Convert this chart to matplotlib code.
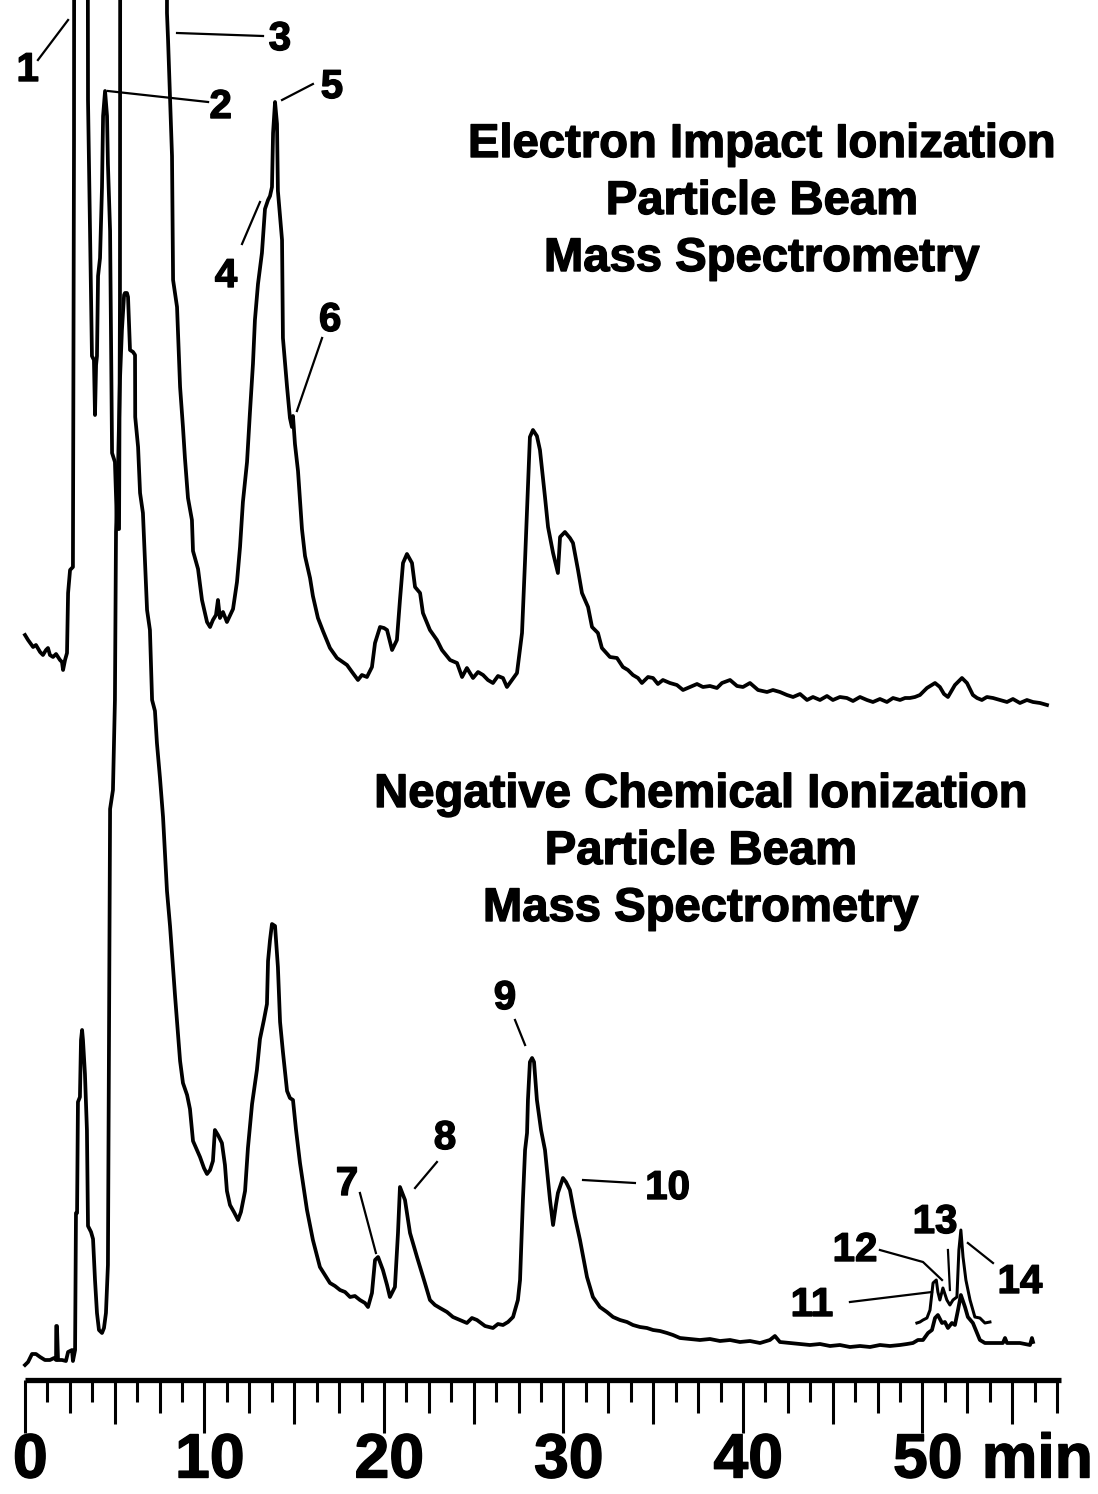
import numpy as np
import matplotlib
matplotlib.use("Agg")
import matplotlib.pyplot as plt
import matplotlib.patheffects as pe

# retention time (min) and detector signal, electron impact trace
ei_time = [0.00, 0.17, 0.45, 0.61, 0.84, 1.00, 1.17, 1.28, 1.39, 1.56, 1.73, 1.95, 2.06, 2.12,
           2.23, 2.34, 2.40, 2.51, 2.67, 2.73, 2.79, 3.06, 3.40, 3.51, 3.62, 3.73, 3.84, 3.90,
           3.96, 4.01, 4.07, 4.18, 4.29, 4.35, 4.46, 4.57, 4.62, 4.74, 4.85, 5.01, 5.13, 5.24,
           5.29, 5.35, 7.00, 7.86, 7.91, 7.97, 8.19, 8.25, 8.47, 8.64, 8.80, 8.91, 9.08, 9.30,
           9.36, 9.64, 9.86, 10.14, 10.31, 10.47, 10.64, 10.75, 10.86, 11.03, 11.25, 11.59,
           11.81, 11.98, 12.14, 12.37, 12.53, 12.70, 12.81, 12.98, 13.20, 13.37, 13.54, 13.65,
           13.76, 13.82, 13.93, 14.04, 14.09, 14.32, 14.37, 14.60, 14.76, 14.87, 14.93, 15.04,
           15.21, 15.43, 15.60, 15.88, 16.04, 16.32, 16.60, 16.99, 17.38, 17.94, 18.22, 18.55,
           18.77, 19.05, 19.33, 19.50, 19.78, 20.00, 20.17, 20.45, 20.72, 20.89, 21.06, 21.28,
           21.56, 21.73, 22.01, 22.17, 22.56, 22.95, 23.23, 23.68, 24.07, 24.35, 24.62, 24.96,
           25.24, 25.52, 25.79, 26.07, 26.35, 26.63, 26.85, 27.13, 27.41, 27.69, 27.86, 27.97,
           28.13, 28.30, 28.52, 28.69, 28.97, 29.14, 29.42, 29.69, 29.81, 30.08, 30.36, 30.53,
           30.81, 31.03, 31.37, 31.59, 31.92, 32.14, 32.59, 32.98, 33.31, 33.59, 33.87, 34.15,
           34.37, 34.71, 34.99, 35.26, 35.54, 35.93, 36.32, 36.66, 37.05, 37.44, 37.77, 38.16,
           38.55, 38.83, 39.28, 39.67, 40.00, 40.39, 40.84, 41.34, 41.67, 42.06, 42.45, 42.79,
           43.18, 43.57, 43.90, 44.29, 44.68, 45.01, 45.40, 45.79, 46.13, 46.52, 46.91, 47.24,
           47.63, 48.02, 48.36, 48.75, 49.03, 49.30, 49.58, 49.86, 50.25, 50.70, 50.97, 51.20,
           51.42, 51.81, 52.20, 52.48, 52.81, 53.04, 53.31, 53.59, 53.93, 54.32, 54.71, 55.04,
           55.43, 55.82, 56.16, 56.55, 56.94]
ei_signal = [70, 65, 58, 60, 53, 50, 55, 57, 50, 48, 51, 45, 43, 35,
             45, 52, 112, 135, 138, 565, 2000, 2600, 2000, 605, 478, 349, 345, 290,
             340, 349, 429, 447, 518, 589, 614, 589, 541, 474, 252, 243, 176, 176,
             405, 2000, 3000, 2000, 692, 665, 549, 425, 398, 318, 278, 247, 207, 185,
             154, 136, 105, 83, 78, 85, 90, 105, 87, 93, 83, 96,
             123, 158, 203, 243, 292, 341, 385, 421, 452, 496, 505, 509,
             518, 572, 603, 581, 514, 465, 367, 318, 287, 278, 289, 261,
             234, 176, 149, 127, 109, 87, 74, 57, 47, 40, 33, 25,
             30, 28, 38, 62, 78, 77, 75, 55, 65, 105, 142, 151,
             142, 118, 112, 92, 75, 65, 55, 45, 42, 28, 37, 27,
             33, 30, 25, 22, 29, 27, 18, 25, 32, 72, 145, 195,
             268, 275, 269, 255, 208, 178, 152, 132, 168, 173, 167, 162,
             135, 112, 98, 78, 72, 57, 48, 47, 38, 35, 30, 27,
             22, 28, 27, 21, 25, 22, 20, 15, 18, 21, 18, 19,
             17, 22, 25, 19, 18, 22, 15, 13, 15, 13, 10, 8,
             11, 5, 8, 5, 9, 5, 8, 7, 4, 8, 5, 3,
             6, 3, 7, 5, 7, 7, 8, 10, 17, 22, 18, 11,
             8, 20, 27, 22, 10, 7, 5, 8, 7, 5, 3, 6,
             2, 5, 3, 2, 0]

# negative chemical ionization trace
nci_time = [0.00, 0.17, 0.39, 0.61, 0.84, 1.11, 1.39, 1.62, 1.73, 1.74, 1.78, 1.84, 2.06, 2.28,
            2.40, 2.62, 2.67, 2.79, 2.84, 2.90, 2.95, 3.06, 3.12, 3.18, 3.23, 3.34, 3.45, 3.51,
            3.68, 3.79, 3.90, 4.01, 4.12, 4.29, 4.40, 4.51, 4.62, 4.74, 4.90, 5.01, 5.07, 5.18,
            5.29, 5.40, 5.52, 5.57, 5.68, 5.74, 5.85, 6.02, 6.13, 6.14, 6.30, 6.41, 6.57, 6.80,
            6.96, 7.08, 7.24, 7.35, 7.52, 7.69, 7.91, 8.08, 8.36, 8.64, 8.80, 9.03, 9.19, 9.36,
            9.58, 9.75, 9.97, 10.14, 10.31, 10.47, 10.58, 10.75, 10.97, 11.14, 11.25, 11.42,
            11.64, 11.87, 12.03, 12.26, 12.42, 12.65, 12.92, 13.09, 13.31, 13.48, 13.54, 13.65,
            13.76, 13.93, 14.09, 14.21, 14.37, 14.60, 14.76, 14.93, 15.10, 15.32, 15.71, 16.04,
            16.43, 16.99, 17.27, 17.55, 17.83, 18.11, 18.38, 18.66, 18.94, 19.11, 19.33, 19.50,
            19.67, 19.94, 20.17, 20.33, 20.61, 20.78, 20.89, 21.06, 21.17, 21.45, 21.84, 22.28,
            22.56, 22.84, 23.12, 23.51, 23.84, 24.23, 24.62, 24.90, 25.18, 25.63, 26.07, 26.35,
            26.63, 26.91, 27.19, 27.46, 27.58, 27.74, 27.86, 27.97, 28.02, 28.13, 28.25, 28.36,
            28.52, 28.75, 28.97, 29.25, 29.42, 29.58, 29.69, 29.97, 30.14, 30.36, 30.64, 30.92,
            31.31, 31.64, 32.03, 32.42, 32.76, 33.15, 33.54, 33.87, 34.26, 34.65, 34.99, 35.38,
            35.77, 36.10, 36.49, 37.05, 37.60, 38.16, 38.72, 39.28, 39.83, 40.39, 40.95, 41.50,
            41.78, 42.06, 42.62, 43.18, 43.73, 44.29, 44.85, 45.40, 45.96, 46.52, 47.08, 47.63,
            48.19, 48.75, 49.14, 49.47, 49.75, 50.03, 50.31, 50.53, 50.70, 50.86, 51.09, 51.25,
            51.42, 51.64, 51.81, 51.98, 52.14, 52.37, 52.53, 52.81, 53.04, 53.20, 53.48, 53.93,
            54.48, 54.60, 54.71, 55.43, 55.99, 56.10, 56.16]
nci_signal = [0, 3, 11, 11, 8, 5, 5, 7, 5, 39, 39, 5, 5, 4,
              13, 15, 4, 15, 152, 152, 263, 268, 325, 335, 325, 291, 235, 139,
              133, 126, 85, 52, 35, 32, 37, 52, 100, 556, 575, 665, 833, 895,
              985, 1035, 1070, 1072, 1072, 1068, 1015, 1013, 1010, 948, 918, 872, 852, 755,
              735, 665, 654, 622, 587, 548, 474, 439, 369, 304, 282, 270, 256, 224,
              215, 208, 197, 191, 195, 204, 235, 230, 222, 200, 174, 160,
              153, 145, 153, 174, 217, 261, 295, 326, 345, 361, 404, 425,
              441, 439, 398, 343, 313, 274, 267, 265, 235, 202, 155, 125,
              98, 82, 79, 75, 73, 68, 69, 65, 62, 58, 72, 105,
              108, 95, 80, 68, 78, 132, 178, 170, 165, 132, 108, 82,
              65, 60, 57, 53, 48, 45, 42, 47, 45, 39, 37, 41,
              40, 43, 48, 65, 85, 165, 215, 232, 265, 303, 307, 303,
              265, 235, 215, 165, 140, 160, 172, 187, 183, 175, 148, 125,
              88, 68, 58, 53, 48, 45, 43, 40, 38, 37, 35, 34,
              32, 30, 27, 26, 25, 26, 24, 25, 23, 24, 22, 25,
              29, 23, 22, 21, 20, 21, 19, 20, 18, 19, 18, 20,
              19, 20, 21, 22, 25, 25, 32, 35, 47, 50, 42, 43,
              37, 42, 40, 55, 70, 58, 48, 42, 32, 25, 22, 22,
              22, 27, 22, 22, 20, 27, 23]

# expanded late-eluting section (peaks 11-14)
inset_time = [49.69, 49.86, 50.03, 50.25, 50.42, 50.59, 50.77, 50.86, 50.97, 51.14, 51.36,
              51.53, 51.70, 51.92, 52.03, 52.14, 52.26, 52.42, 52.65, 52.92, 53.20, 53.48, 53.76]
inset_signal = [42, 43, 45, 47, 55, 82, 85, 73, 65, 77, 65,
                60, 65, 68, 115, 135, 108, 85, 65, 48, 47, 42, 43]

# peak numbers: label, text position, leader path (min, plot units)
peak_labels = [
    ("1", (0.15, 1424), [(0.72, 1434), (2.40, 1474)]),
    ("2", (10.90, 1387), [(4.62, 1403), (10.20, 1392)]),
    ("3", (14.20, 1455), [(8.47, 1461), (13.26, 1458)]),
    ("4", (11.20, 1218), [(13.09, 1292), (12.09, 1250)]),
    ("5", (17.10, 1407), [(14.32, 1394), (16.04, 1410)]),
    ("6", (17.00, 1174), [(15.15, 1083), (16.55, 1156)]),
    ("7", (17.94, 310), [(19.55, 241), (18.66, 301)]),
    ("8", (23.40, 356), [(21.73, 306), (22.95, 332)]),
    ("9", (26.74, 496), [(27.86, 449), (27.30, 474)]),
    ("10", (35.80, 306), [(31.09, 314), (33.98, 311)]),
    ("11", (43.84, 189), [(50.53, 202), (45.96, 192)]),
    ("12", (46.24, 244), [(51.09, 214), (50.03, 232), (47.63, 244)]),
    ("13", (50.70, 272), [(51.53, 204), (51.42, 244)]),
    ("14", (55.43, 212), [(52.53, 251), (53.93, 231)]),
]

ei_title = ["Electron Impact Ionization", "Particle Beam", "Mass Spectrometry"]
nci_title = ["Negative Chemical Ionization", "Particle Beam", "Mass Spectrometry"]
tick_labels = [0, 10, 20, 30, 40, 50]

EI_BASE = 789
NCI_BASE = 129
AXIS_Y = 114

fig = plt.figure(figsize=(10.98, 14.94), dpi=100)
ax = fig.add_axes([0, 0, 1, 1])
ax.set_xlim(-1.393, 59.78)
ax.set_ylim(0, 1494)
ax.axis("off")

lw = 2.7
ax.plot(ei_time, np.array(ei_signal) + EI_BASE, color="black", lw=lw)
ax.plot(nci_time, np.array(nci_signal) + NCI_BASE, color="black", lw=lw)
ax.plot(inset_time, np.array(inset_signal) + NCI_BASE, color="black", lw=lw * 0.8)

# heavy type: bold face with a thin outline
heavy = [pe.withStroke(linewidth=1.0, foreground="black")]
bold = dict(family=["Liberation Sans", "DejaVu Sans"], weight="bold", color="black",
            path_effects=heavy)
for label, (tx, ty), path in peak_labels:
    xs, ys = zip(*path)
    ax.plot(xs, ys, color="black", lw=1.6)
    ax.text(tx, ty, label, ha="center", va="center", fontsize=29, **bold)

for i, line in enumerate(ei_title):
    ax.text(41.06, 1349 - 57 * i, line, ha="center", va="center", fontsize=34, **bold)
for i, line in enumerate(nci_title):
    ax.text(37.66, 699 - 57 * i, line, ha="center", va="center", fontsize=34, **bold)

# time axis with 1.25 min graduations
ax.plot([0, 57.7], [AXIS_Y, AXIS_Y], color="black", lw=3.8, solid_capstyle="butt")
ticks = np.arange(0, 57.5 + 0.01, 1.25)
for i, t in enumerate(ticks):
    if i % 8 == 0:
        length = 53
    elif i % 4 == 0:
        length = 44
    elif i % 2 == 0:
        length = 33
    else:
        length = 22
    ax.plot([t, t], [AXIS_Y, AXIS_Y - length], color="black", lw=2.2, solid_capstyle="butt")

for v in tick_labels:
    ax.text(v + 0.3, 33, str(v), ha="center", va="center", fontsize=45, **bold)
ax.text(56.4, 33, "min", ha="center", va="center", fontsize=45, **bold)

fig.savefig("out.png", dpi=100)
